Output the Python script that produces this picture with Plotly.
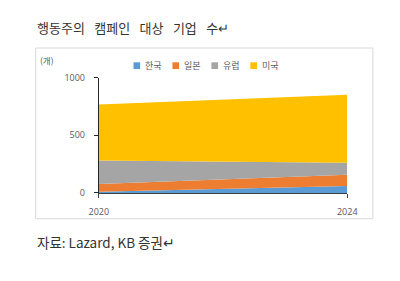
import plotly.graph_objects as go

years = [2020, 2024]
series_names = ["한국", "일본", "유럽", "미국"]
korea = [10, 60]
japan = [67, 97]
europe = [204, 106]
usa = [485, 588]
series_values = [korea, japan, europe, usa]
colors = ["#5B9BD5", "#ED7D31", "#A5A5A5", "#FFC000"]
y_ticks = [0, 500, 1000]
title_text = "행동주의 캠페인 대상 기업 수↵"
source_text = "자료: Lazard, KB 증권↵"
unit_text = "(개)"

W, H = 400, 281
KR = "Noto Sans CJK KR"

def px(x):
    return x / W

def py(y):
    return 1 - y / H

fig = go.Figure()
for name, vals, col in zip(series_names, series_values, colors):
    fig.add_trace(go.Scatter(
        x=years, y=vals, name=name, mode="lines",
        stackgroup="one", line=dict(width=0, color=col),
        fillcolor=col, showlegend=False, hoverinfo="skip"))

shapes = [
    dict(type="rect", xref="paper", yref="paper",
         x0=px(27), x1=px(382), y0=py(222), y1=py(43),
         line=dict(color="#D9D9D9", width=1), fillcolor="rgba(0,0,0,0)", layer="below"),
]
annotations = [
    dict(text=title_text.replace(" ", "\u00a0\u2002"), xref="paper", yref="paper", x=px(26), y=py(21),
         xanchor="left", yanchor="middle", showarrow=False,
         font=dict(family=KR, size=13, color="#333333")),
    dict(text=source_text, xref="paper", yref="paper", x=px(26), y=py(246),
         xanchor="left", yanchor="middle", showarrow=False,
         font=dict(family=KR, size=13.5, color="#333333")),
    dict(text=unit_text, xref="paper", yref="paper", x=px(29), y=py(56),
         xanchor="left", yanchor="middle", showarrow=False,
         font=dict(family=KR, size=8.5, color="#595959")),
]
# manual legend
leg_x0 = 130
leg_step = 41
for i, (name, col) in enumerate(zip(series_names, colors)):
    x = leg_x0 + i * leg_step
    shapes.append(dict(type="rect", xref="paper", yref="paper",
                       x0=px(x), x1=px(x + 7), y0=py(65), y1=py(58),
                       line=dict(width=0), fillcolor=col))
    annotations.append(dict(text=name, xref="paper", yref="paper",
                            x=px(x + 10), y=py(61), xanchor="left", yanchor="middle",
                            showarrow=False,
                            font=dict(family=KR, size=9, color="#595959")))

fig.update_layout(
    width=W, height=H, margin=dict(l=0, r=0, t=0, b=0),
    paper_bgcolor="white", plot_bgcolor="white",
    shapes=shapes, annotations=annotations, showlegend=False,
    xaxis=dict(domain=[px(93.5), px(355)], range=[2020, 2024],
               tickvals=years, ticktext=[str(y) for y in years],
               showgrid=False, zeroline=False, showline=True,
               linecolor="#404040", linewidth=1,
               ticks="outside", ticklen=4, tickcolor="#404040",
               ticklabelstandoff=6,
               tickfont=dict(family="Open Sans", size=9, color="#595959")),
    yaxis=dict(domain=[py(195), py(74)], range=[0, 1000],
               tickvals=y_ticks, showgrid=True, gridcolor="#D9D9D9",
               zeroline=False, showline=True, linecolor="#262626", linewidth=1,
               ticks="outside", ticklen=4, tickcolor="#262626",
               ticklabelstandoff=7,
               tickfont=dict(family="Open Sans", size=9, color="#595959")),
)

fig.write_html("out.html")
